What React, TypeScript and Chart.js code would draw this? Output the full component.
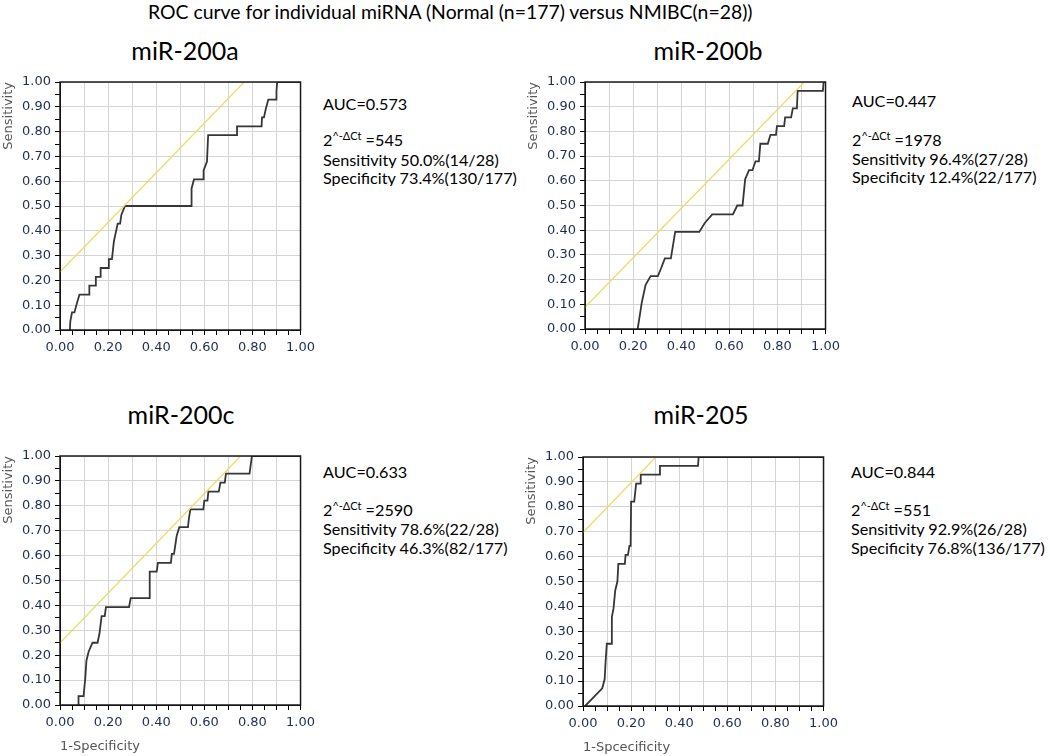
import React, { useEffect, useRef } from "react";
import { Chart, registerables } from "chart.js";

Chart.register(...registerables);

// ---------- text ----------
const mainTitle = "ROC curve for individual miRNA (Normal (n=177) versus NMIBC(n=28))";
const panelNames = ["miR-200a", "miR-200b", "miR-200c", "miR-205"];
const aucLabels = ["AUC=0.573", "AUC=0.447", "AUC=0.633", "AUC=0.844"];
const cutoffValues = ["545", "1978", "2590", "551"];
const sensLabels = [
  "Sensitivity 50.0%(14/28)",
  "Sensitivity 96.4%(27/28)",
  "Sensitivity 78.6%(22/28)",
  "Sensitivity 92.9%(26/28)",
];
const specLabels = [
  "Specificity 73.4%(130/177)",
  "Specificity 12.4%(22/177)",
  "Specificity 46.3%(82/177)",
  "Specificity 76.8%(136/177)",
];
const xTitles = ["", "", "1-Specificity", "1-Spcecificity"];
const yTitle = "Sensitivity";

// optimal cut-off point (sensitivity, 1-specificity) for each miRNA
const cutSens = [0.5, 0.964, 0.786, 0.929];
const cutFpr = [0.266, 0.876, 0.537, 0.232];

// ---------- ROC curves (1-specificity, sensitivity) ----------
const roc200aX = [0.041, 0.043, 0.05, 0.06, 0.07, 0.081, 0.122, 0.122, 0.149, 0.149, 0.169, 0.169, 0.2, 0.203, 0.216, 0.224, 0.24, 0.25, 0.255, 0.27, 0.547, 0.547, 0.557, 0.595, 0.597, 0.611, 0.616, 0.736, 0.736, 0.838, 0.84, 0.848, 0.856, 0.866, 0.899, 0.9, 0.903, 1.0];
const roc200aY = [0, 0.036, 0.071, 0.071, 0.107, 0.143, 0.143, 0.179, 0.179, 0.214, 0.214, 0.25, 0.25, 0.286, 0.286, 0.357, 0.429, 0.429, 0.464, 0.5, 0.5, 0.571, 0.607, 0.607, 0.643, 0.679, 0.786, 0.786, 0.821, 0.821, 0.857, 0.857, 0.893, 0.929, 0.929, 0.964, 1.0, 1.0];

const roc200bX = [0.219, 0.236, 0.252, 0.273, 0.303, 0.318, 0.332, 0.357, 0.375, 0.475, 0.498, 0.529, 0.615, 0.633, 0.655, 0.666, 0.682, 0.696, 0.709, 0.723, 0.729, 0.76, 0.771, 0.794, 0.798, 0.828, 0.832, 0.857, 0.864, 0.881, 0.884, 0.989, 0.992, 1.0];
const roc200bY = [0, 0.107, 0.179, 0.214, 0.214, 0.25, 0.286, 0.286, 0.393, 0.393, 0.429, 0.464, 0.464, 0.5, 0.5, 0.607, 0.643, 0.643, 0.679, 0.679, 0.75, 0.75, 0.786, 0.786, 0.821, 0.821, 0.857, 0.857, 0.893, 0.893, 0.964, 0.964, 1.0, 1.0];

const roc200cX = [0.077, 0.077, 0.098, 0.105, 0.11, 0.119, 0.135, 0.156, 0.164, 0.173, 0.186, 0.191, 0.287, 0.294, 0.371, 0.373, 0.402, 0.407, 0.461, 0.465, 0.474, 0.485, 0.496, 0.532, 0.536, 0.542, 0.596, 0.6, 0.613, 0.617, 0.66, 0.667, 0.685, 0.69, 0.788, 0.798, 1.0];
const roc200cY = [0, 0.036, 0.036, 0.107, 0.179, 0.214, 0.25, 0.25, 0.286, 0.357, 0.357, 0.393, 0.393, 0.429, 0.429, 0.536, 0.536, 0.571, 0.571, 0.607, 0.607, 0.679, 0.714, 0.714, 0.75, 0.786, 0.786, 0.821, 0.821, 0.857, 0.857, 0.893, 0.893, 0.929, 0.929, 1.0, 1.0];

const roc205X = [0.009, 0.08, 0.09, 0.094, 0.099, 0.118, 0.12, 0.127, 0.134, 0.143, 0.147, 0.174, 0.177, 0.187, 0.193, 0.198, 0.2, 0.213, 0.217, 0.221, 0.237, 0.24, 0.317, 0.32, 0.478, 0.481, 1.0];
const roc205Y = [0, 0.071, 0.107, 0.179, 0.25, 0.25, 0.357, 0.393, 0.464, 0.5, 0.571, 0.571, 0.607, 0.607, 0.643, 0.643, 0.821, 0.821, 0.857, 0.893, 0.893, 0.929, 0.929, 0.964, 0.964, 1.0, 1.0];

const curveXs = [roc200aX, roc200bX, roc200cX, roc205X];
const curveYs = [roc200aY, roc200bY, roc200cY, roc205Y];

// ---------- layout ----------
const boxes = [
  { left: 0, top: 70, w: 320, h: 290, padRight: 13, xh: 30 },
  { left: 525, top: 70, w: 320, h: 289, padRight: 12, xh: 30 },
  { left: 0, top: 444, w: 320, h: 311, padRight: 13, xh: 50 },
  { left: 523, top: 445, w: 320, h: 311, padRight: 11, xh: 50 },
];
const nameCenters = [
  { cx: 185, top: 38 },
  { cx: 708, top: 38 },
  { cx: 181, top: 402 },
  { cx: 701, top: 402 },
];
const notePos = [
  { x: 323, base: [110, 146, 166, 184], clip: 200 },
  { x: 852, base: [107, 146, 165, 183], clip: 198 },
  { x: 323, base: [478, 516, 535, 554], clip: 230 },
  { x: 851, base: [478, 516, 535, 554], clip: 199 },
];

const TICK_FONT = "'DejaVu Sans', Verdana, sans-serif";
const TEXT_FONT = "Lato, 'Open Sans', sans-serif";
const NOTE_SIZE = 16.2;

const framePlugin = {
  id: "frame",
  afterDatasetsDraw(chart: any) {
    const { ctx, chartArea: a } = chart;
    ctx.save();
    ctx.strokeStyle = "#1a1a1a";
    ctx.lineWidth = 1.5;
    ctx.strokeRect(a.left, a.top, a.right - a.left, a.bottom - a.top);
    ctx.restore();
  },
};

function isMult(v: number, step100: number) {
  return Math.round(v * 100) % step100 === 0;
}

function RocPanel({ idx }: { idx: number }) {
  const ref = useRef<HTMLCanvasElement>(null);
  const box = boxes[idx];
  useEffect(() => {
    const xs = curveXs[idx];
    const ys = curveYs[idx];
    const curve = xs.map((x, i) => ({ x, y: ys[i] }));
    const b = cutSens[idx] - cutFpr[idx];
    const diag = [
      { x: 0, y: b },
      { x: 1 - b, y: 1 },
    ];
    const gridColor = (c: any) =>
      isMult(c.tick.value, 10) ? "#d4d4d4" : "rgba(0,0,0,0)";
    const chart = new Chart(ref.current as HTMLCanvasElement, {
      type: "line",
      data: {
        datasets: [
          {
            data: diag,
            borderColor: "#e6df6a",
            borderWidth: 1.3,
            pointRadius: 0,
            tension: 0,
          },
          {
            data: curve,
            borderColor: "#363636",
            borderWidth: 1.8,
            pointRadius: 0,
            tension: 0,
          },
        ],
      },
      options: {
        animation: false,
        responsive: true,
        maintainAspectRatio: false,
        events: [],
        layout: {
          autoPadding: false,
          padding: { top: 12, right: box.padRight, left: 0, bottom: 0 },
        },
        plugins: {
          legend: { display: false },
          tooltip: { enabled: false },
        },
        scales: {
          x: {
            type: "linear",
            min: 0,
            max: 1,
            afterFit: (s: any) => {
              s.height = box.xh;
            },
            ticks: {
              stepSize: 0.05,
              autoSkip: false,
              maxRotation: 0,
              minRotation: 0,
              padding: 5,
              color: "#1f2d52",
              font: { family: TICK_FONT, size: 13 },
              callback: (v: any) =>
                isMult(Number(v), 20) ? Number(v).toFixed(2) : "",
            },
            grid: {
              color: gridColor,
              tickColor: "#000",
              tickLength: 5,
              lineWidth: 1,
            },
            border: { display: true, color: "#000", width: 1 },
            title: {
              display: xTitles[idx] !== "",
              text: xTitles[idx],
              align: "start",
              color: "#555",
              font: { family: TICK_FONT, size: 13 },
              padding: { top: 0, bottom: 1 },
            },
          },
          y: {
            type: "linear",
            min: 0,
            max: 1,
            afterFit: (s: any) => {
              s.width = 60;
            },
            ticks: {
              stepSize: 0.05,
              autoSkip: false,
              padding: 4,
              color: "#1f2d52",
              font: { family: TICK_FONT, size: 13 },
              callback: (v: any) =>
                isMult(Number(v), 10) ? Number(v).toFixed(2) : "",
            },
            grid: {
              color: gridColor,
              tickColor: "#000",
              tickLength: 5,
              lineWidth: 1,
            },
            border: { display: true, color: "#000", width: 1 },
            title: {
              display: true,
              text: yTitle,
              align: "end",
              color: "#5a5a5a",
              font: { family: TICK_FONT, size: 13 },
              padding: { top: 1, bottom: 0 },
            },
          },
        },
      },
      plugins: [framePlugin],
    } as any);
    return () => chart.destroy();
  }, [idx]);
  return (
    <div
      style={{
        position: "absolute",
        left: box.left,
        top: box.top,
        width: box.w,
        height: box.h,
      }}
    >
      <canvas ref={ref} />
    </div>
  );
}

function Notes({ idx }: { idx: number }) {
  const p = notePos[idx];
  const off = Math.round(NOTE_SIZE * 0.887);
  const line = (i: number, content: React.ReactNode) => (
    <div
      key={i}
      style={{
        position: "absolute",
        left: p.x,
        top: p.base[i] - off,
        width: p.clip,
        overflow: "hidden",
        whiteSpace: "nowrap",
        fontFamily: TEXT_FONT,
        fontSize: NOTE_SIZE,
        lineHeight: `${NOTE_SIZE}px`,
        color: "#000",
      }}
    >
      {content}
    </div>
  );
  return (
    <>
      {line(0, aucLabels[idx])}
      {line(
        1,
        <>
          2
          <span style={{ fontSize: 11, position: "relative", top: -6 }}>
            ^-ΔCt
          </span>{" "}
          ={cutoffValues[idx]}
        </>
      )}
      {line(2, sensLabels[idx])}
      {line(3, specLabels[idx])}
    </>
  );
}

export default function App() {
  return (
    <div
      style={{
        position: "absolute",
        left: 0,
        top: 0,
        width: 1050,
        height: 756,
        background: "#fff",
        overflow: "hidden",
      }}
    >
      <div
        style={{
          position: "absolute",
          left: 148,
          top: 2,
          whiteSpace: "nowrap",
          fontFamily: TEXT_FONT,
          fontSize: 19.4,
          lineHeight: "19px",
          color: "#000",
        }}
      >
        {mainTitle}
      </div>
      {panelNames.map((n, i) => (
        <div
          key={n}
          style={{
            position: "absolute",
            left: nameCenters[i].cx - 100,
            top: nameCenters[i].top,
            width: 200,
            textAlign: "center",
            whiteSpace: "nowrap",
            fontFamily: TEXT_FONT,
            fontSize: 25,
            lineHeight: "25px",
            color: "#000",
          }}
        >
          {n}
        </div>
      ))}
      {[0, 1, 2, 3].map((i) => (
        <React.Fragment key={i}>
          <RocPanel idx={i} />
          <Notes idx={i} />
        </React.Fragment>
      ))}
    </div>
  );
}
